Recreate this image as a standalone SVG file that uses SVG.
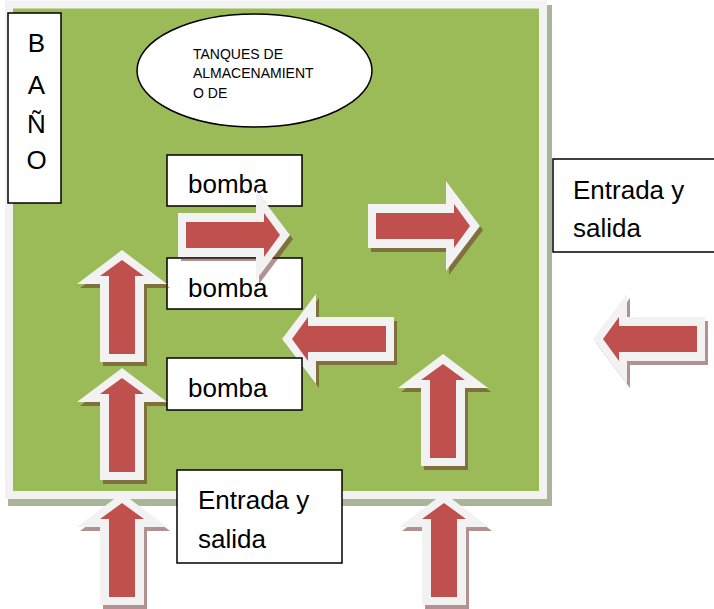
<svg xmlns="http://www.w3.org/2000/svg" xmlns:xlink="http://www.w3.org/1999/xlink" width="714" height="609" viewBox="0 0 714 609">
<style>
.box{fill:#fff;stroke:#000;stroke-width:1.5}
.t{font-family:"Liberation Sans",Arial,sans-serif;fill:#000}
.big{font-size:26px}
.small{font-size:14px}
.ao{fill:#f2f2f2}
.ai{fill:#c0504d}
.as{fill:#632523;opacity:0.5}
</style>
<defs>
<polygon id="ao" points="0,0 45,34 22,34 22,112 -22,112 -22,34 -45,34"/>
<polygon id="ai" points="0,10 22,26 13,26 13,104 -13,104 -13,26 -22,26"/>
</defs>
<rect width="714" height="609" fill="#fff"/>
<g id="frame">
<rect x="8" y="5" width="544" height="501" fill="#a8b596"/>
<rect x="9" y="4.5" width="534" height="490.5" fill="#9bbb59" stroke="#f2f2f2" stroke-width="8"/>
</g>
<g id="bano">
<rect class="box" x="8" y="13" width="53" height="190"/>
<text class="t big" x="36.5" y="52" text-anchor="middle">B</text>
<text class="t big" x="36.5" y="94" text-anchor="middle">A</text>
<text class="t big" x="36.5" y="133" text-anchor="middle">Ñ</text>
<text class="t big" x="36.5" y="169" text-anchor="middle">O</text>
</g>
<g id="tanques">
<ellipse class="box" cx="254.5" cy="70.5" rx="117.5" ry="56.5"/>
<text class="t small" x="193" y="59">TANQUES DE</text>
<text class="t small" x="193" y="78">ALMACENAMIENT</text>
<text class="t small" x="193" y="98">O DE</text>
</g>
<g id="bomba-1">
<rect class="box" x="167" y="155" width="135" height="51"/>
<text class="t big" x="188" y="193">bomba</text>
</g>
<g id="bomba-2">
<rect class="box" x="167" y="258" width="135" height="51"/>
<text class="t big" x="188" y="297">bomba</text>
</g>
<g id="connectors">
<g id="arrow-up-1">
<use href="#ao" xlink:href="#ao" class="as" transform="translate(125,254)"/>
<use href="#ao" xlink:href="#ao" class="ao" transform="translate(122,250)"/>
<use href="#ai" xlink:href="#ai" class="ai" transform="translate(122,250)"/>
</g>
<g id="arrow-up-2">
<use href="#ao" xlink:href="#ao" class="as" transform="translate(125,372)"/>
<use href="#ao" xlink:href="#ao" class="ao" transform="translate(122,368)"/>
<use href="#ai" xlink:href="#ai" class="ai" transform="translate(122,368)"/>
</g>
<g id="arrow-up-3">
<use href="#ao" xlink:href="#ao" class="as" transform="translate(446,358)"/>
<use href="#ao" xlink:href="#ao" class="ao" transform="translate(443,354)"/>
<use href="#ai" xlink:href="#ai" class="ai" transform="translate(443,354)"/>
</g>
<g id="arrow-up-4">
<use href="#ao" xlink:href="#ao" class="as" transform="translate(125,497)"/>
<use href="#ao" xlink:href="#ao" class="ao" transform="translate(122,493)"/>
<use href="#ai" xlink:href="#ai" class="ai" transform="translate(122,493)"/>
</g>
<g id="arrow-up-5">
<use href="#ao" xlink:href="#ao" class="as" transform="translate(447,497)"/>
<use href="#ao" xlink:href="#ao" class="ao" transform="translate(444,493)"/>
<use href="#ai" xlink:href="#ai" class="ai" transform="translate(444,493)"/>
</g>
<g id="arrow-right-1">
<use href="#ao" xlink:href="#ao" class="as" transform="translate(293,239) rotate(90)"/>
<use href="#ao" xlink:href="#ao" class="ao" transform="translate(290,235) rotate(90)"/>
<use href="#ai" xlink:href="#ai" class="ai" transform="translate(290,235) rotate(90)"/>
</g>
<g id="arrow-right-2">
<use href="#ao" xlink:href="#ao" class="as" transform="translate(483,230) rotate(90)"/>
<use href="#ao" xlink:href="#ao" class="ao" transform="translate(480,226) rotate(90)"/>
<use href="#ai" xlink:href="#ai" class="ai" transform="translate(480,226) rotate(90)"/>
</g>
<g id="arrow-left-1">
<use href="#ao" xlink:href="#ao" class="as" transform="translate(285,343) rotate(-90)"/>
<use href="#ao" xlink:href="#ao" class="ao" transform="translate(282,339) rotate(-90)"/>
<use href="#ai" xlink:href="#ai" class="ai" transform="translate(282,339) rotate(-90)"/>
</g>
<g id="arrow-left-2">
<use href="#ao" xlink:href="#ao" class="as" transform="translate(596,343) rotate(-90)"/>
<use href="#ao" xlink:href="#ao" class="ao" transform="translate(593,339) rotate(-90)"/>
<use href="#ai" xlink:href="#ai" class="ai" transform="translate(593,339) rotate(-90)"/>
</g>
</g>
<g id="bomba-3">
<rect class="box" x="167" y="358" width="135" height="52"/>
<text class="t big" x="188" y="397">bomba</text>
</g>
<g id="entrada-bottom">
<rect class="box" x="177" y="470" width="165" height="93"/>
<text class="t big" x="198" y="509">Entrada y</text>
<text class="t big" x="198" y="548">salida</text>
</g>
<g id="entrada-right">
<rect class="box" x="553" y="159" width="165" height="93"/>
<text class="t big" x="573" y="199">Entrada y</text>
<text class="t big" x="573" y="237">salida</text>
</g>
</svg>
